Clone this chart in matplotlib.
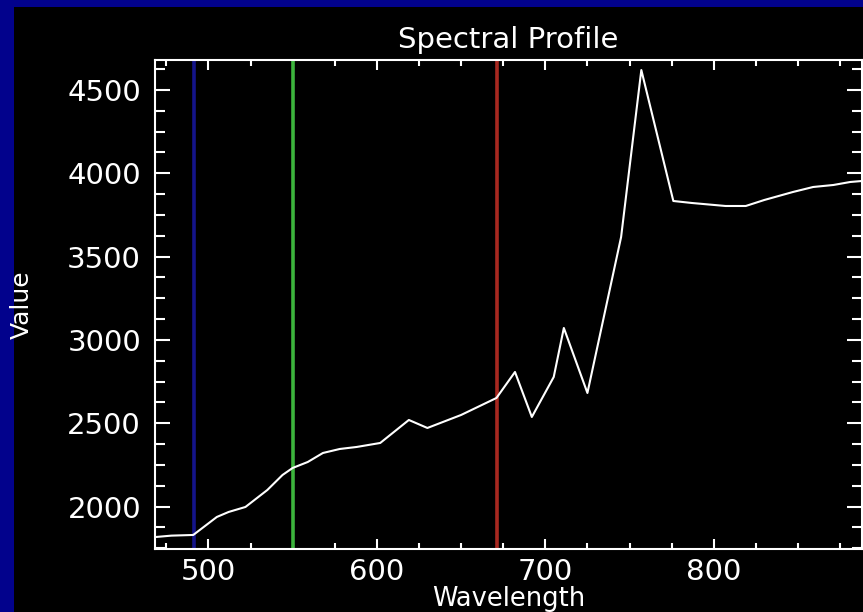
import matplotlib
matplotlib.use("Agg")
import matplotlib.pyplot as plt
from matplotlib.patches import Rectangle
from matplotlib.ticker import MultipleLocator

plt.rcParams["font.family"] = ["DejaVu Sans"]

# Spectral profile data
wavelength = [469, 478, 491, 505, 512, 522, 535, 544, 550, 559, 568, 578, 588,
              602, 619, 630, 650, 671, 682, 692, 705, 711, 725, 745, 757, 776,
              787, 807, 819, 830, 847, 859, 871, 881, 888]
value = [1818, 1826, 1830, 1938, 1968, 1998, 2100, 2190, 2232, 2268, 2322, 2346,
         2358, 2382, 2520, 2472, 2550, 2652, 2808, 2538, 2778, 3072, 2682, 3618,
         4620, 3834, 3822, 3804, 3804, 3840, 3888, 3918, 3930, 3948, 3954]

# RGB band markers
band_wavelengths = [491.5, 550.2, 671.5]
band_colors = ["#14148a", "#3cb43c", "#a82820"]

x_ticks = [500, 600, 700, 800]
y_ticks = [2000, 2500, 3000, 3500, 4000, 4500]

W, H = 863, 612
fig = plt.figure(figsize=(W / 100, H / 100), dpi=100)
fig.patch.set_facecolor("#02028c")
fig.patches.append(Rectangle((14 / W, 0), 1, (H - 7) / H, transform=fig.transFigure,
                             facecolor="black", edgecolor="none", zorder=-10))

ax = fig.add_axes([155 / W, (H - 549.3) / H, (862 - 155) / W, (549.3 - 60) / H])
ax.set_zorder(5)
ax.set_facecolor("black")

for bw, bc in zip(band_wavelengths, band_colors):
    ax.axvline(bw, color=bc, lw=2.6)

ax.plot(wavelength, value, color="white", lw=1.5)

ax.set_xlim(468.3, 888)
ax.set_ylim(1744, 4680)
ax.set_xticks(x_ticks)
ax.set_yticks(y_ticks)
ax.xaxis.set_minor_locator(MultipleLocator(25))
ax.yaxis.set_minor_locator(MultipleLocator(125))

for s in ax.spines.values():
    s.set_color("white")
    s.set_linewidth(1.5)

ax.tick_params(axis="both", which="both", direction="in", colors="white",
               top=True, right=True, width=1.5, labelsize=21)
ax.tick_params(axis="x", which="major", length=7.5, pad=6)
ax.tick_params(axis="x", which="minor", length=4.3)
ax.tick_params(axis="y", which="major", length=10.8, pad=10)
ax.tick_params(axis="y", which="minor", length=7.2)

ax.set_title("Spectral Profile", color="white", fontsize=21, pad=9)
ax.set_xlabel("Wavelength", color="white", fontsize=18.5, labelpad=0)
ax.set_ylabel("Value", color="white", fontsize=18)
ax.yaxis.set_label_coords(-0.172, 0.5)

fig.savefig("out.png", dpi=100, facecolor=fig.get_facecolor())
